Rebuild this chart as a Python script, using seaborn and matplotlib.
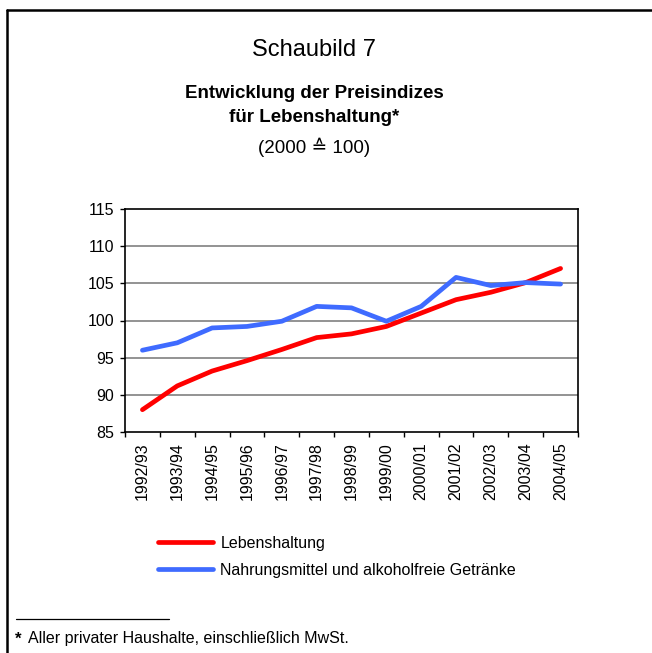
import pandas as pd
import matplotlib.pyplot as plt
import seaborn as sns
from matplotlib.lines import Line2D

# values
jahre = ['1992/93', '1993/94', '1994/95', '1995/96', '1996/97', '1997/98', '1998/99',
         '1999/00', '2000/01', '2001/02', '2002/03', '2003/04', '2004/05']
lebenshaltung = [88.0, 91.2, 93.2, 94.6, 96.1, 97.7, 98.2, 99.2, 101.0, 102.8, 103.8, 105.1, 107.0]
nahrungsmittel = [96.0, 97.0, 99.0, 99.2, 99.9, 101.9, 101.7, 99.9, 101.9, 105.8, 104.7, 105.1, 104.9]
reihen = ['Lebenshaltung', 'Nahrungsmittel und alkoholfreie Getränke']
farben = ['#FF0000', '#3F6BFF']
y_ticks = [85, 90, 95, 100, 105, 110, 115]

pos = list(range(len(jahre)))
df = pd.DataFrame({
    'pos': pos * 2,
    'Index': lebenshaltung + nahrungsmittel,
    'Reihe': [reihen[0]] * len(jahre) + [reihen[1]] * len(jahre),
})

sns.set_style('white')
plt.rcParams['font.family'] = ['Liberation Sans', 'DejaVu Sans']
plt.rcParams['text.color'] = 'black'
plt.rcParams['xtick.color'] = 'black'
plt.rcParams['ytick.color'] = 'black'

fig = plt.figure(figsize=(6.52, 6.53), dpi=100)
ax = fig.add_axes([125 / 652, 1 - 432 / 653, 453 / 652, 223 / 653])

sns.lineplot(data=df, x='pos', y='Index', hue='Reihe', palette=farben,
             linewidth=3.4, ax=ax, sort=False, legend=True)
handles, labels = ax.get_legend_handles_labels()
ax.get_legend().remove()

ax.set_xlim(-0.5, len(jahre) - 0.5)
ax.set_ylim(85, 115)
ax.set_yticks(y_ticks)
ax.set_xticks(pos)
ax.set_xticklabels(jahre, rotation=90)
ax.set_xticks([p - 0.5 for p in pos] + [len(jahre) - 0.5], minor=True)
ax.tick_params(axis='x', which='major', length=0, pad=7.5, labelsize=11.5)
ax.tick_params(axis='x', which='minor', length=3.8, width=1, direction='out', bottom=True)
ax.tick_params(axis='y', length=3.8, width=1, direction='out', left=True,
               pad=4, labelsize=11.5)
ax.set_xlabel('')
ax.set_ylabel('')
for y in y_ticks[1:-1]:
    ax.axhline(y, color='#8a8a8a', linewidth=1.3, zorder=0)
for s in ax.spines.values():
    s.set_color('black')
    s.set_linewidth(1.2)

# titles
fig.text(0.482, 1 - 50 / 653, 'Schaubild 7', ha='center', va='center', fontsize=17)
fig.text(0.482, 1 - 93 / 653, 'Entwicklung der Preisindizes', ha='center', va='center',
         fontsize=13.5, fontweight='bold')
fig.text(0.482, 1 - 118 / 653, 'für Lebenshaltung*', ha='center', va='center',
         fontsize=13.5, fontweight='bold')
fig.text(0.482, 1 - 147 / 653, '(2000 ≙ 100)', ha='center', va='center', fontsize=13.5)

# legend
fig.legend(handles, labels, loc='upper left', bbox_to_anchor=(158 / 652, 1 - 536 / 653),
           frameon=False, fontsize=11.5, handlelength=3.45, handletextpad=0.45,
           labelspacing=0.72, borderpad=0, borderaxespad=0)

# footnote
fig.add_artist(Line2D([16 / 652, 169 / 652], [1 - 619 / 653] * 2, color='black', linewidth=0.9))
fig.text(15 / 652, 1 - 639 / 653, '*', ha='left', va='center', fontsize=12, fontweight='bold')
fig.text(28 / 652, 1 - 638 / 653, 'Aller privater Haushalte, einschließlich MwSt.',
         ha='left', va='center', fontsize=11.5)

# outer frame (left and top edge)
fig.add_artist(Line2D([7 / 652, 7 / 652], [0, 1 - 10 / 653], color='black', linewidth=1.8))
fig.add_artist(Line2D([7 / 652, 1], [1 - 10 / 653] * 2, color='black', linewidth=1.8))

fig.savefig('out.png', dpi=100)
